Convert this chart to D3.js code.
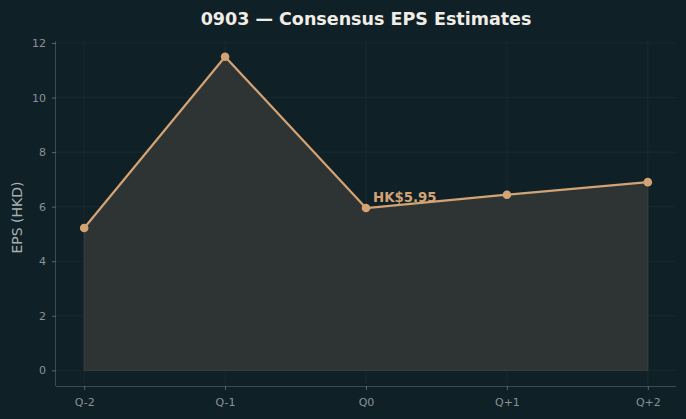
<!DOCTYPE html>
<html>
<head>
<meta charset="utf-8">
<script src="https://cdn.jsdelivr.net/npm/d3@7"></script>
<style>
  body { margin: 0; background: #102027; }
  svg { display: block; font-family: "DejaVu Sans", sans-serif; }
</style>
</head>
<body>
<div id="chart"></div>
<script>
// data
var quarters = ["Q-2", "Q-1", "Q0", "Q+1", "Q+2"];
var eps = [5.22, 11.5, 5.95, 6.44, 6.9];
var yTicks = [0, 2, 4, 6, 8, 10, 12];
var highlightIndex = 2;
var highlightLabel = "HK$5.95";

var W = 686, H = 419;
var margin = { top: 41, right: 10, bottom: 33, left: 56 };
var width = W - margin.left - margin.right,
    height = H - margin.top - margin.bottom;

var svg = d3.select("#chart").append("svg")
    .attr("width", W)
    .attr("height", H)
    .style("background", "#102027");

var g = svg.append("g")
    .attr("transform", "translate(" + margin.left + "," + margin.top + ")");

// matplotlib style 5% margins
var x = d3.scaleLinear().domain([-0.2, 4.2]).range([0, width]);
var y = d3.scaleLinear().domain([-0.575, 12.075]).range([height, 0]);

// grid
g.append("g").selectAll("line").data(yTicks).enter().append("line")
    .attr("x1", 0).attr("x2", width)
    .attr("y1", function (d) { return y(d); })
    .attr("y2", function (d) { return y(d); })
    .attr("stroke", "#1c2c32").attr("stroke-width", 0.8);
g.append("g").selectAll("line").data(quarters).enter().append("line")
    .attr("y1", 0).attr("y2", height)
    .attr("x1", function (d, i) { return x(i); })
    .attr("x2", function (d, i) { return x(i); })
    .attr("stroke", "#1c2c32").attr("stroke-width", 0.8);

// area
var area = d3.area()
    .x(function (d, i) { return x(i); })
    .y0(y(0))
    .y1(function (d) { return y(d); });
g.append("path")
    .datum(eps)
    .attr("d", area)
    .attr("fill", "#2e3433")
    .attr("stroke", "#3c4140")
    .attr("stroke-width", 1);

// line
var line = d3.line()
    .x(function (d, i) { return x(i); })
    .y(function (d) { return y(d); });
g.append("path")
    .datum(eps)
    .attr("d", line)
    .attr("fill", "none")
    .attr("stroke", "#d4a373")
    .attr("stroke-width", 2.2)
    .attr("stroke-linejoin", "round");

g.selectAll(".dot").data(eps).enter().append("circle")
    .attr("cx", function (d, i) { return x(i); })
    .attr("cy", function (d) { return y(d); })
    .attr("r", 4.3)
    .attr("fill", "#d4a373");

// annotation
g.append("text")
    .attr("x", x(highlightIndex) + 7)
    .attr("y", y(eps[highlightIndex]) - 6)
    .attr("fill", "#d4a373")
    .attr("font-size", 13.3)
    .attr("font-weight", "bold")
    .text(highlightLabel);

// axes
var xAxis = g.append("g")
    .attr("transform", "translate(0," + height + ")")
    .call(d3.axisBottom(x).tickValues(d3.range(quarters.length))
        .tickFormat(function (d) { return quarters[d]; })
        .tickSize(4).tickPadding(8));
var yAxis = g.append("g")
    .call(d3.axisLeft(y).tickValues(yTicks).tickSize(4).tickPadding(6));

[xAxis, yAxis].forEach(function (a) {
    a.select(".domain").attr("stroke", "#3e4a4f").attr("stroke-width", 1);
    a.selectAll(".tick line").attr("stroke", "#5b666b");
    a.selectAll(".tick text").attr("fill", "#8a9296").attr("font-size", 11)
        .attr("font-family", "DejaVu Sans, sans-serif");
});
xAxis.select(".domain").attr("d", "M0,0.5H" + width);
yAxis.select(".domain").attr("d", "M-0.5,0V" + height);

// y label
svg.append("text")
    .attr("transform", "translate(22," + (margin.top + y(5.6)) + ")rotate(-90)")
    .attr("text-anchor", "middle")
    .attr("fill", "#a9b0b3")
    .attr("font-size", 14)
    .text("EPS (HKD)");

// title
svg.append("text")
    .attr("x", 366)
    .attr("y", 25)
    .attr("text-anchor", "middle")
    .attr("fill", "#f0ede6")
    .attr("font-size", 17.5)
    .attr("font-weight", "bold")
    .text("0903 — Consensus EPS Estimates");
</script>
</body>
</html>
